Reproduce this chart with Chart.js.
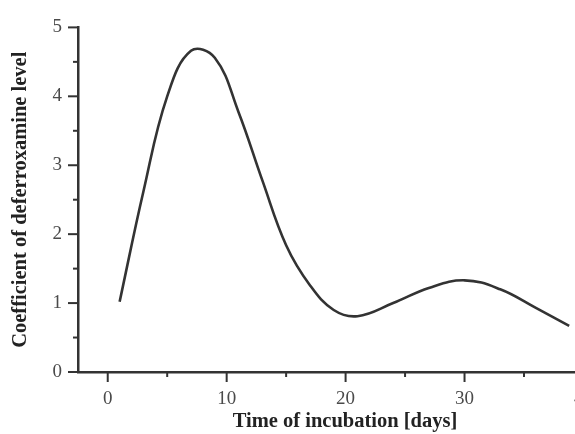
<!DOCTYPE html>
<html>
<head>
<meta charset="utf-8">
<script src="https://cdn.jsdelivr.net/npm/chart.js@4.4.1/dist/chart.umd.min.js"></script>
<style>
  html, body { margin: 0; padding: 0; background: #fff; overflow: hidden; }
  #wrap { width: 620px; height: 434px; }
</style>
</head>
<body>
<div id="wrap"><canvas id="curveChart" width="620" height="434"></canvas></div>
<script>
'use strict';

var days = [1, 3, 5, 7, 9, 11, 13, 15, 17, 19, 21, 24, 27, 30, 33, 36, 38.8];
var coefficient = [1.02, 2.62, 4.0, 4.66, 4.56, 3.77, 2.78, 1.84, 1.26, 0.9, 0.81, 1.0, 1.22, 1.33, 1.2, 0.93, 0.67];

var xMajor = [0, 10, 20, 30, 40];
var xMinor = [5, 15, 25, 35];
var yMajor = [0, 1, 2, 3, 4, 5];
var yMinor = [0.5, 1.5, 2.5, 3.5, 4.5];

var ink = '#333';
var serif = "'Liberation Serif', 'DejaVu Serif', serif";

(function() {
  // outward tick marks, long ones for majors and short ones for minors
  var tickMarks = {
    id: 'tickMarks',
    afterDraw: function(chart) {
      var ctx = chart.ctx;
      var xs = chart.scales.x;
      var ys = chart.scales.y;
      var area = chart.chartArea;
      ctx.save();
      ctx.strokeStyle = ink;
      ctx.lineWidth = 2;
      function xTick(v, len) {
        var px = xs.getPixelForValue(v);
        ctx.beginPath();
        ctx.moveTo(px, area.bottom);
        ctx.lineTo(px, area.bottom + len);
        ctx.stroke();
      }
      function yTick(v, len) {
        var py = ys.getPixelForValue(v);
        ctx.beginPath();
        ctx.moveTo(area.left, py);
        ctx.lineTo(area.left - len, py);
        ctx.stroke();
      }
      xMajor.forEach(function(v) { xTick(v, 10); });
      xMinor.forEach(function(v) { xTick(v, 5); });
      yMajor.forEach(function(v) { yTick(v, 10); });
      yMinor.forEach(function(v) { yTick(v, 5); });
      ctx.restore();
    }
  };

  new Chart(document.getElementById('curveChart'), {
    type: 'line',
    data: {
      datasets: [{
        data: days.map(function(d, i) { return { x: d, y: coefficient[i] }; }),
        borderColor: ink,
        borderWidth: 2.6,
        pointRadius: 0,
        tension: 0.4,
        fill: false
      }]
    },
    options: {
      responsive: false,
      animation: false,
      layout: { padding: { top: 21, left: 0, right: 8, bottom: 0 } },
      plugins: {
        legend: { display: false },
        tooltip: { enabled: false }
      },
      scales: {
        x: {
          type: 'linear',
          min: -2.5,
          max: 42.4,
          afterBuildTicks: function(scale) {
            scale.ticks = xMajor.map(function(v) { return { value: v }; });
          },
          afterFit: function(scale) { scale.height = 62; },
          grid: { display: false, drawTicks: false },
          border: { display: true, color: ink, width: 2.5 },
          ticks: {
            padding: 16,
            color: '#4a4a4a',
            maxRotation: 0,
            font: { family: serif, size: 19 }
          },
          title: {
            display: true,
            text: 'Time of incubation [days]',
            color: '#222',
            padding: { top: 0, bottom: 0 },
            font: { family: serif, size: 20.5, weight: 'bold' }
          }
        },
        y: {
          min: 0,
          max: 5,
          afterBuildTicks: function(scale) {
            scale.ticks = yMajor.map(function(v) { return { value: v }; });
          },
          afterFit: function(scale) { scale.width = 78; },
          grid: { display: false, drawTicks: false },
          border: { display: true, color: ink, width: 2.5 },
          ticks: {
            padding: 16,
            color: '#4a4a4a',
            font: { family: serif, size: 19 }
          },
          title: {
            display: true,
            text: 'Coefficient of deferroxamine level',
            color: '#222',
            padding: { top: 8, bottom: 0 },
            font: { family: serif, size: 20.5, weight: 'bold' }
          }
        }
      }
    },
    plugins: [tickMarks]
  });
})();
</script>
</body>
</html>
